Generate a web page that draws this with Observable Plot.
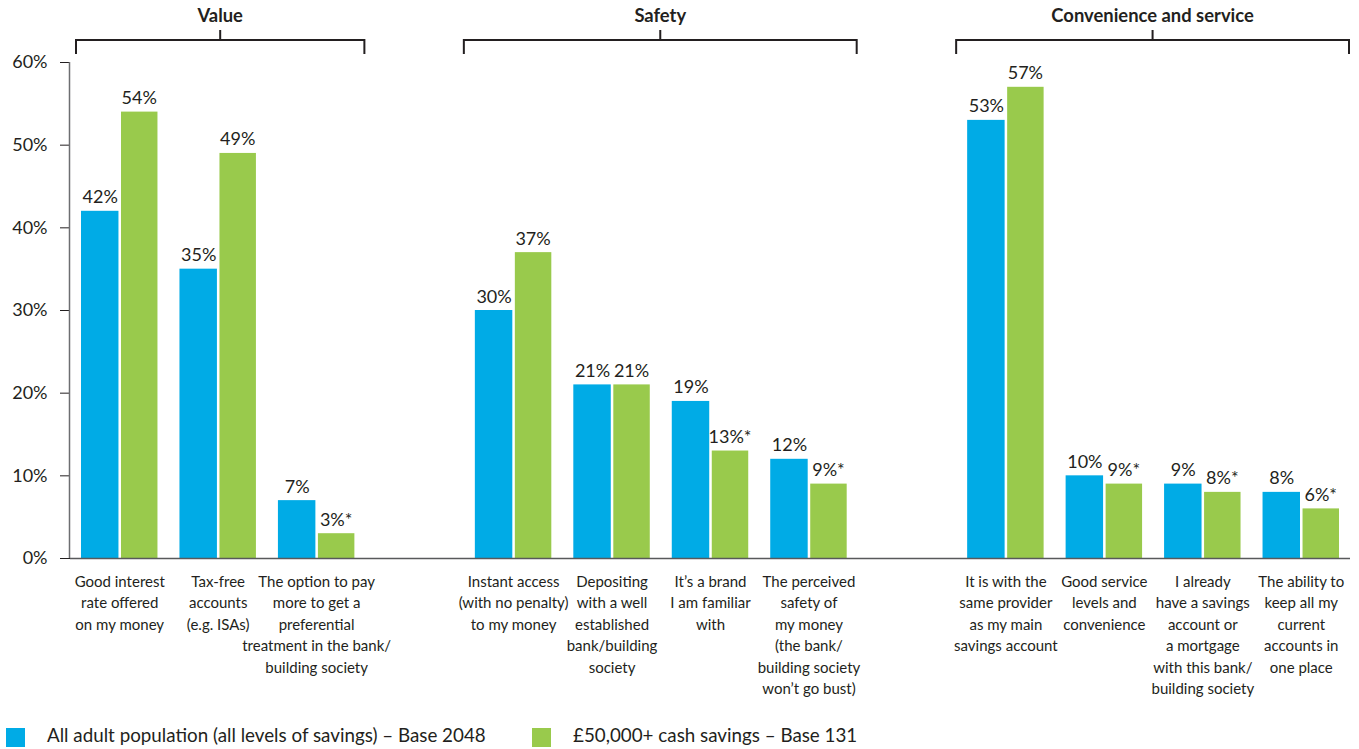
<!DOCTYPE html>
<html>
<head>
<meta charset="utf-8">
<script src="https://cdn.jsdelivr.net/npm/d3@7"></script>
<script src="https://cdn.jsdelivr.net/npm/@observablehq/plot@0.6"></script>
<style>
  html, body { margin: 0; padding: 0; background: #fff; }
  body { font-family: Lato, "Open Sans", sans-serif; color: #231f20; width: 1359px; height: 749px; overflow: hidden; }
  #legend { position: relative; height: 34px; }
  .item { position: absolute; top: 13px; display: flex; align-items: center; font-size: 18.8px; line-height: 19px; }
  .item span { position: relative; top: -3px; }
  .sw { width: 19px; height: 19px; margin-right: 22px; }
</style>
</head>
<body>
<div id="chart"></div>
<div id="legend"></div>
<script>
// ---------------- data ----------------
const groupNames = ["Value", "Safety", "Convenience and service"];
const categories = [
  "Good interest\nrate offered\non my money",
  "Tax-free\naccounts\n(e.g. ISAs)",
  "The option to pay\nmore to get a\npreferential\ntreatment in the bank/\nbuilding society",
  "Instant access\n(with no penalty)\nto my money",
  "Depositing\nwith a well\nestablished\nbank/building\nsociety",
  "It\u2019s a brand\nI am familiar\nwith",
  "The perceived\nsafety of\nmy money\n(the bank/\nbuilding society\nwon\u2019t go bust)",
  "It is with the\nsame provider\nas my main\nsavings account",
  "Good service\nlevels and\nconvenience",
  "I already\nhave a savings\naccount or\na mortgage\nwith this bank/\nbuilding society",
  "The ability to\nkeep all my\ncurrent\naccounts in\none place"
];
const categoryGroup = ["Value","Value","Value","Safety","Safety","Safety","Safety",
  "Convenience and service","Convenience and service","Convenience and service","Convenience and service"];
const seriesNames = ["All adult population (all levels of savings) \u2013 Base 2048", "\u00a350,000+ cash savings \u2013 Base 131"];
const allAdults   = [42, 35, 7, 30, 21, 19, 12, 53, 10, 9, 8];
const cashSavers  = [54, 49, 3, 37, 21, 13, 9, 57, 9, 8, 6];
const lowBase     = [false, false, true, false, false, true, true, false, true, true, true]; // marked with *
const yTicks = [0, 10, 20, 30, 40, 50, 60];
const colors = ["#00abe6", "#99ca4c"];

// ---------------- derived ----------------
const xDomain = [];
groupNames.forEach((g, gi) => {
  if (gi > 0) xDomain.push("__gap" + gi);
  categories.forEach((c, i) => { if (categoryGroup[i] === g) xDomain.push(c); });
});
const rowsA = categories.map((c, i) => ({category: c, value: allAdults[i], label: allAdults[i] + "%"}));
const rowsB = categories.map((c, i) => ({category: c, value: cashSavers[i], label: cashSavers[i] + "%" + (lowBase[i] ? "*" : "")}));

const ink = "#231f20";
const marginLeft = 70;

const plot = Plot.plot({
  width: 1359,
  height: 715,
  marginLeft: marginLeft,
  marginRight: 9,
  marginTop: 62,
  marginBottom: 157,
  style: {fontFamily: "Lato, 'Open Sans', sans-serif", fontSize: "18px", color: ink, background: "#fff"},
  x: {domain: xDomain, padding: 0, round: false, axis: null},
  y: {domain: [0, 60], ticks: yTicks, tickFormat: d => d + "%", tickSize: 10, tickPadding: 13, label: null},
  marks: [
    Plot.barY(rowsA, {x: "category", y: "value", fill: colors[0], insetLeft: 11, insetRight: 50}),
    Plot.barY(rowsB, {x: "category", y: "value", fill: colors[1], insetLeft: 51, insetRight: 11}),
    Plot.text(rowsA, {x: "category", y: "value", text: "label", dx: -19.5, dy: -8, lineAnchor: "bottom", fontSize: 18, fill: ink}),
    Plot.text(rowsB, {x: "category", y: "value", text: "label", dx: 19.5, dy: -8, lineAnchor: "bottom", fontSize: 18, fill: ink}),
    Plot.text(categories, {x: d => d, text: d => d, frameAnchor: "bottom", lineAnchor: "top", dy: 13, fontSize: 15, lineHeight: 1.43, fill: ink}),
    Plot.ruleY([0], {stroke: "#58595b", strokeWidth: 1.5})
  ]
});
document.getElementById("chart").appendChild(plot);

// ---------------- brackets, group titles, y axis line (from the plot's scales) ----------------
const xs = plot.scale("x");
const ys = plot.scale("y");
const svg = d3.select(plot);
const bw = xs.bandwidth;
svg.append("line")
  .attr("x1", marginLeft - 0.5).attr("x2", marginLeft - 0.5)
  .attr("y1", ys.apply(60)).attr("y2", ys.apply(0))
  .attr("stroke", "#6d6e71").attr("stroke-width", 1.5);
groupNames.forEach(g => {
  const cats = categories.filter((c, i) => categoryGroup[i] === g);
  const x0 = Math.max(xs.apply(cats[0]), marginLeft + 6);
  const x1 = xs.apply(cats[cats.length - 1]) + bw - 1;
  const cx = (x0 + x1) / 2;
  svg.append("path")
    .attr("d", `M${x0},54V40H${x1}V54M${cx},40V30`)
    .attr("fill", "none").attr("stroke", ink).attr("stroke-width", 2);
  svg.append("text")
    .attr("x", cx).attr("y", 22).attr("text-anchor", "middle")
    .attr("font-weight", "bold").attr("font-size", 18.4).attr("fill", ink)
    .text(g);
});

// ---------------- legend ----------------
const legend = d3.select("#legend");
const legendLeft = [6, 532];
seriesNames.forEach((s, i) => {
  const it = legend.append("div").attr("class", "item").style("left", legendLeft[i] + "px");
  it.append("div").attr("class", "sw").style("background", colors[i]);
  it.append("span").text(s);
});
</script>
</body>
</html>
